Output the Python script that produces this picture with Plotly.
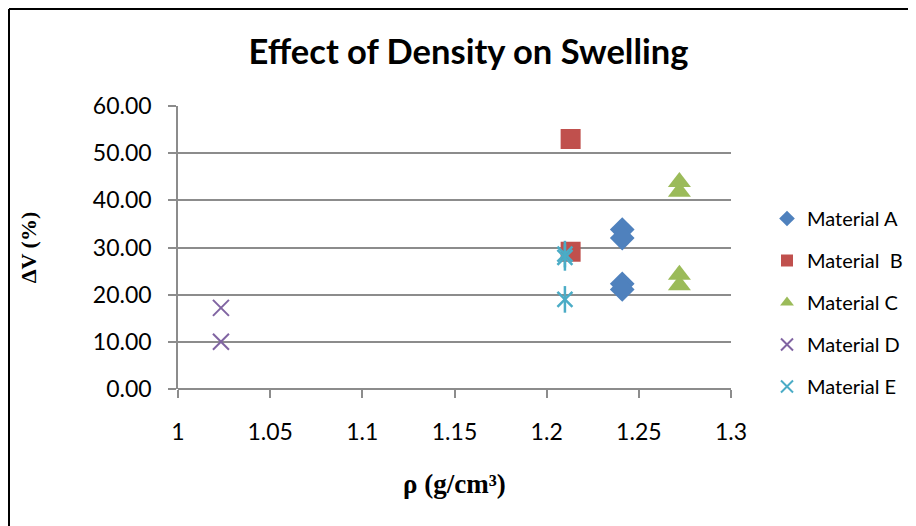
import plotly.graph_objects as go

# ---- data ----
a_x = [1.241, 1.241, 1.241, 1.241]
a_y = [33.8, 32.0, 22.3, 21.1]
b_x = [1.213, 1.213]
b_y = [53.0, 29.1]
c_x = [1.272, 1.272, 1.272, 1.272]
c_y = [43.9, 41.8, 24.2, 22.0]
d_x = [1.0233, 1.0233]
d_y = [17.2, 10.0]
e_x = [1.2099, 1.2099, 1.2099]
e_y = [28.6, 27.9, 19.0]

names = ["Material A", "Material  B", "Material C", "Material D", "Material E"]
colors = ["#4F81BD", "#C0504D", "#9BBB59", "#8064A2", "#4BACC6"]

OFF = 8  # page body margin
W, H = 916 - OFF, 526 - OFF
L, R, T, B = 178 - OFF, 731 - OFF, 106 - OFF, 389 - OFF

fig = go.Figure()
fig.add_trace(go.Scatter(x=a_x, y=a_y, mode="markers", name=names[0], legendgroup="a",
                         marker=dict(symbol="diamond", size=19, color=colors[0])))
fig.add_trace(go.Scatter(x=b_x, y=b_y, mode="markers", name=names[1], legendgroup="b",
                         marker=dict(symbol="square", size=20, color=colors[1])))
fig.add_trace(go.Scatter(x=c_x, y=c_y, mode="markers", name=names[2], legendgroup="c",
                         marker=dict(symbol="triangle-up", size=20, color=colors[2])))
fig.add_trace(go.Scatter(x=d_x, y=d_y, mode="markers", name=names[3], legendgroup="d",
                         marker=dict(symbol="x-thin", size=16, color=colors[3],
                                     line=dict(color=colors[3], width=2))))
fig.add_trace(go.Scatter(x=e_x, y=e_y, mode="markers", name=names[4], legendgroup="e",
                         marker=dict(symbol="x-thin", size=15, color=colors[4],
                                     line=dict(color=colors[4], width=2.5))))
fig.add_trace(go.Scatter(x=e_x, y=e_y, mode="markers", name=names[4], legendgroup="e",
                         showlegend=False,
                         marker=dict(symbol="line-ns", size=19, color=colors[4],
                                     line=dict(color=colors[4], width=2.5))))

grid = "#8C8C8C"
fig.update_layout(
    width=W, height=H,
    margin=dict(l=L, r=W - R, t=T, b=H - B, pad=0, autoexpand=False),
    paper_bgcolor="white", plot_bgcolor="white",
    title=dict(text="<b>Effect of Density on Swelling</b>", x=(468.5 - OFF) / W, xanchor="center",
               y=1 - (52 - OFF) / H, yanchor="middle",
               font=dict(family="Lato, Open Sans, sans-serif", size=34.5, color="black")),
    font=dict(family="Lato, Open Sans, sans-serif", color="black"),
    xaxis=dict(range=[1, 1.3], tickvals=[1, 1.05, 1.1, 1.15, 1.2, 1.25, 1.3],
               ticktext=["1", "1.05", "1.1", "1.15", "1.2", "1.25", "1.3"],
               showgrid=False, zeroline=False, showline=False,
               ticks="outside", ticklen=8, tickcolor=grid, tickwidth=1.5,
               tickfont=dict(size=23), ticklabelstandoff=14,
               title=dict(text="<b>ρ (g/cm³)</b>", standoff=30,
                          font=dict(family="Liberation Serif, Times New Roman, serif", size=27))),
    yaxis=dict(range=[0, 60], tickvals=[0, 10, 20, 30, 40, 50, 60], tickformat=".2f",
               showgrid=True, gridcolor=grid, gridwidth=1.5,
               zeroline=True, zerolinecolor=grid, zerolinewidth=1.5,
               showline=True, linecolor=grid, linewidth=1.5,
               ticks="outside", ticklen=8, tickcolor=grid, tickwidth=1.5,
               tickfont=dict(size=23), ticklabelstandoff=12,
               title=dict(text="<b>ΔV (%)</b>", standoff=50,
                          font=dict(family="Liberation Serif, Times New Roman, serif", size=22))),
    legend=dict(x=(767 - 178) / (731 - 178), xanchor="left", y=(389 - 199) / (389 - 106), yanchor="top",
                font=dict(size=20), itemsizing="constant", tracegroupgap=13,
                bgcolor="rgba(0,0,0,0)"),
    showlegend=True,
)

# outer chart border (partially cut off at right/bottom); page px -> paper coords
px2x = lambda p: (p - 178) / (731 - 178)
px2y = lambda p: (389 - p) / (389 - 106)
fig.add_shape(type="line", xref="paper", yref="paper",
              x0=px2x(9), x1=px2x(9), y0=px2y(9), y1=px2y(540),
              line=dict(color="black", width=2))
fig.add_shape(type="line", xref="paper", yref="paper",
              x0=px2x(9), x1=px2x(930), y0=px2y(9), y1=px2y(9),
              line=dict(color="black", width=2))

fig.write_html("out.html")
